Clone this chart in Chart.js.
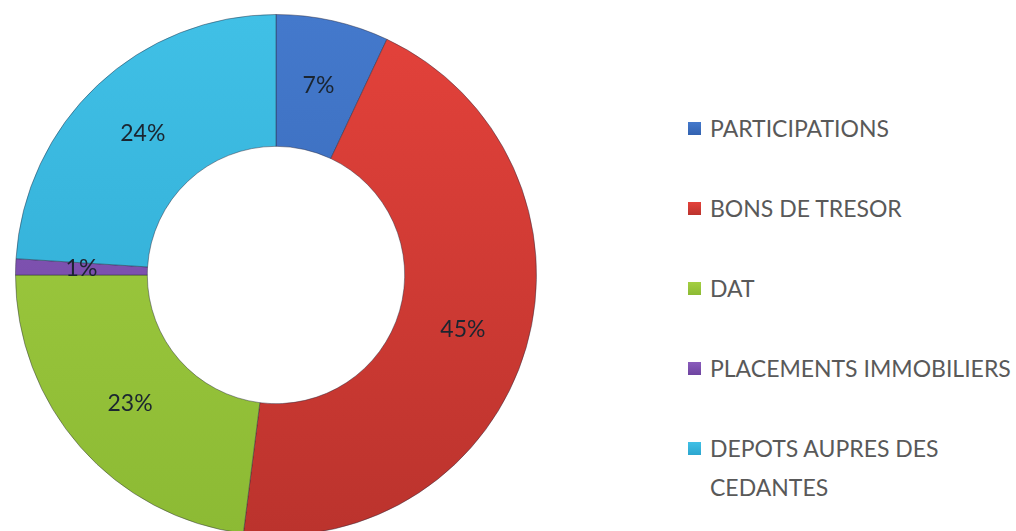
<!DOCTYPE html>
<html>
<head>
<meta charset="utf-8">
<script src="https://cdn.jsdelivr.net/npm/chart.js@4.4.1/dist/chart.umd.min.js"></script>
<style>
    html, body { margin: 0; padding: 0; background: #fff; overflow: hidden; }
    body { width: 1016px; height: 531px; position: relative; font-family: Lato, 'Open Sans', sans-serif; }
    #pie { position: absolute; left: 15px; top: 14px; }
    #legend { position: absolute; left: 688px; top: 89px; }
    .leg-item { height: 80px; display: flex; align-items: flex-start; color: #595959; font-size: 23px; }
    .leg-item .box { width: 13px; height: 13px; margin-right: 9px; flex: none; margin-top: 33px; }
    .leg-item .txt { line-height: 39px; margin-top: 20px; white-space: nowrap; }
</style>
</head>
<body>
<canvas id="pie" width="522" height="522"></canvas>
<div id="legend"></div>
<script>
// data
const labels = ['PARTICIPATIONS', 'BONS DE TRESOR', 'DAT', 'PLACEMENTS IMMOBILIERS', ['DEPOTS AUPRES DES', 'CEDANTES']];
const shares = [7, 45, 23, 1, 24];
const colorsTop = ['#4479cc', '#e4423b', '#a4cf42', '#8a5cbc', '#40c0e6'];
const colorsBottom = ['#3262b0', '#bb332d', '#8cba34', '#6e44a0', '#2ca6cf'];

document.addEventListener('DOMContentLoaded', () => {
    // legend
    const legend = document.getElementById('legend');
    labels.forEach((lab, i) => {
        const item = document.createElement('div');
        item.className = 'leg-item';
        item.innerHTML = `
            <span class="box" style="background: linear-gradient(${colorsTop[i]}, ${colorsBottom[i]})"></span>
            <span class="txt">${Array.isArray(lab) ? lab.join('<br>') : lab}</span>
        `;
        legend.appendChild(item);
    });

    const ctx = document.getElementById('pie').getContext('2d');
    const grads = colorsTop.map((c, i) => {
        const g = ctx.createLinearGradient(0, 0, 0, 522);
        g.addColorStop(0, c);
        g.addColorStop(1, colorsBottom[i]);
        return g;
    });

    // percent labels at arc centres
    const pctLabels = {
        id: 'pctLabels',
        afterDatasetsDraw(chart) {
            const c = chart.ctx;
            c.save();
            c.font = '23px Lato';
            c.fillStyle = '#1b2530';
            c.textAlign = 'center';
            c.textBaseline = 'middle';
            chart.getDatasetMeta(0).data.forEach((arc, i) => {
                const p = arc.tooltipPosition();
                c.fillText(shares[i] + '%', p.x, p.y);
            });
            c.restore();
        }
    };

    new Chart(ctx, {
        type: 'doughnut',
        data: {
            labels: labels,
            datasets: [{
                data: shares,
                backgroundColor: grads,
                borderColor: 'rgba(40, 40, 60, 0.45)',
                borderWidth: 1
            }]
        },
        options: {
            responsive: false,
            animation: false,
            cutout: '49.4%',
            layout: { padding: 0 },
            plugins: { legend: { display: false }, tooltip: { enabled: false } }
        },
        plugins: [pctLabels]
    });
});
</script>
</body>
</html>
